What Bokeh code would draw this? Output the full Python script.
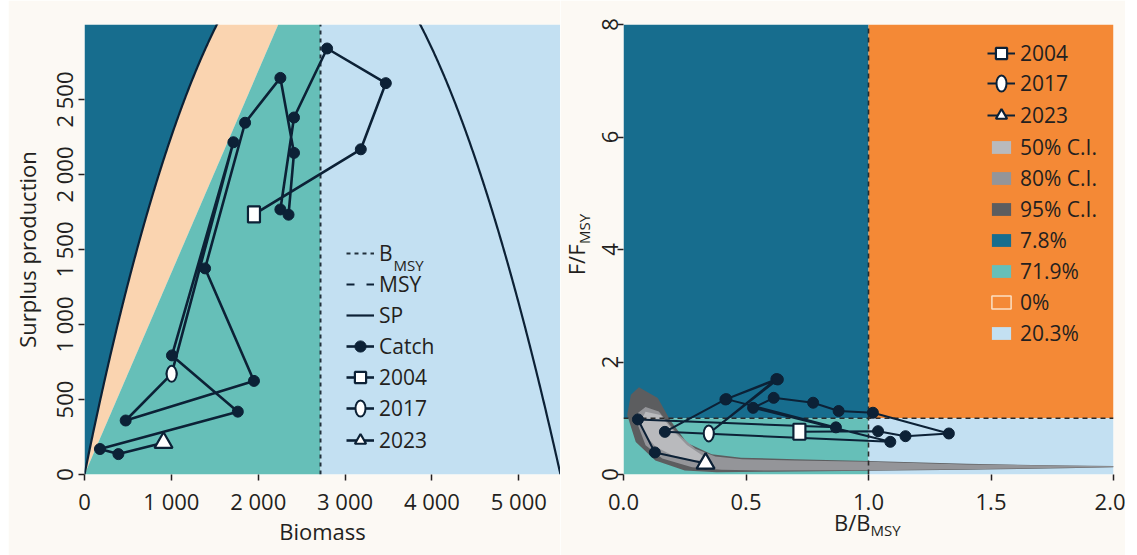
import numpy as np
from bokeh.plotting import figure
from bokeh.models import (ColumnDataSource, Legend, LegendItem, Label, Title, FixedTicker,
                          Range1d, Spacer)
from bokeh.layouts import row
from bokeh.embed import file_html
from bokeh.resources import INLINE

# ---------------- palette and fonts ----------------
FONT = "Open Sans"
TEXT = "#231f20"
NAVY = "#0c2136"
CREAM = "#fcf9f4"
DARK_BLUE = "#176d8e"
TEAL = "#66bfb8"
PEACH = "#fad4b0"
LIGHT_BLUE = "#c3e0f2"
ORANGE = "#f48936"
CI50 = "#b9babd"
CI80 = "#949599"
CI95 = "#5c5d5f"
TICK_SIZE = "22px"
TITLE_SIZE = "22px"
LEGEND_SIZE = "21px"
SUB_SIZE = "15px"

# ---------------- surplus production model (Pella-Tomlinson form) ----------------
K = 5480.0          # carrying capacity
r = 2.59            # intrinsic growth rate
shape = 0.9         # curve shape exponent
b_msy = 2717.0      # biomass at MSY
f_msy = 1.345       # fishing mortality at MSY


def surplus(b):
    return r / shape * b * (1 - (b / K) ** shape)


msy = float(surplus(b_msy))

# ---------------- stock trajectory (biomass vs catch) ----------------
years = list(range(2004, 2024))
biomass = [1951, 3181, 3469, 2793, 2412, 2255, 2349, 2412, 2255, 1849,
           1388, 1951, 474, 1003, 1714, 1007, 1765, 178, 390, 910]
catch = [1734, 2168, 2609, 2840, 2380, 1767, 1732, 2144, 2644, 2345,
         1374, 624, 360, 671, 2215, 794, 419, 170, 136, 212]

# ---------------- Kobe trajectory ----------------
b_ratio = [0.718, 1.039, 1.151, 1.328, 1.018, 0.878, 0.774, 0.613, 0.529, 1.089,
           0.169, 0.416, 0.624, 0.348, 0.630, 0.420, 0.867, 0.059, 0.128, 0.335]
f_ratio = [0.760, 0.770, 0.681, 0.729, 1.098, 1.129, 1.276, 1.363, 1.185, 0.581,
           0.758, 1.334, 1.696, 0.730, 1.690, 1.340, 0.838, 0.979, 0.392, 0.196]

# confidence regions of the terminal-year estimate
ci95_b = [0.063, 0.140, 0.190, 0.260, 0.360, 0.480, 0.70, 1.00, 1.40, 1.80, 2.00,
          2.00, 1.80, 1.40, 1.00, 0.60, 0.38, 0.25, 0.13, 0.05, 0.015, 0.03]
ci95_f = [1.55, 1.36, 0.97, 0.56, 0.36, 0.30, 0.27, 0.24, 0.19, 0.16, 0.15,
          0.13, 0.11, 0.085, 0.065, 0.05, 0.04, 0.07, 0.25, 0.58, 1.06, 1.42]
ci80_b = [0.090, 0.144, 0.212, 0.294, 0.375, 0.484, 0.70, 1.00, 1.40, 1.80, 2.00,
          2.00, 1.80, 1.40, 1.00, 0.60, 0.40, 0.28, 0.158, 0.090, 0.056, 0.060]
ci80_f = [1.20, 1.12, 0.76, 0.46, 0.32, 0.27, 0.25, 0.225, 0.18, 0.155, 0.148,
          0.133, 0.118, 0.093, 0.075, 0.07, 0.085, 0.13, 0.285, 0.52, 0.91, 1.10]
ci50_b = [0.090, 0.151, 0.199, 0.260, 0.321, 0.348, 0.280, 0.199, 0.131, 0.090, 0.070]
ci50_f = [1.116, 1.057, 0.790, 0.522, 0.344, 0.255, 0.255, 0.344, 0.492, 0.700, 0.940]

# quadrant shares
quadrant_labels = ["7.8%", "71.9%", "0%", "20.3%"]
ci_labels = ["50% C.I.", "80% C.I.", "95% C.I."]
marked_years = [2004, 2017, 2023]

# ---------------- axes ----------------
sp_x_max = 5480
sp_y_max = 3000
sp_x_ticks = [0, 1000, 2000, 3000, 4000, 5000]
sp_x_labels = ["0", "1 000", "2 000", "3 000", "4 000", "5 000"]
sp_y_ticks = [0, 500, 1000, 1500, 2000, 2500]
sp_y_labels = ["0", "500", "1 000", "1 500", "2 000", "2 500"]
kobe_x_ticks = [0, 0.5, 1.0, 1.5, 2.0]
kobe_x_labels = ["0.0", "0.5", "1.0", "1.5", "2.0"]
kobe_y_ticks = [0, 2, 4, 6, 8]
kobe_y_labels = ["0", "2", "4", "6", "8"]


def style_axes(p):
    for ax in p.axis:
        ax.axis_line_color = None
        ax.major_tick_line_color = TEXT
        ax.major_tick_line_width = 1.5
        ax.major_tick_out = 6
        ax.major_tick_in = 0
        ax.minor_tick_line_color = None
        ax.major_label_text_font = FONT
        ax.major_label_text_font_size = TICK_SIZE
        ax.major_label_text_color = TEXT
        ax.axis_label_text_font = FONT
        ax.axis_label_text_font_size = TITLE_SIZE
        ax.axis_label_text_font_style = "normal"
        ax.axis_label_text_color = TEXT
    p.grid.visible = False


def legend(p, items, loc, glyph_w, glyph_h, row_h, standoff):
    lg = Legend(items=items, location=loc, orientation="vertical",
                glyph_width=glyph_w, glyph_height=glyph_h, label_height=row_h,
                spacing=0, padding=0, margin=0, label_standoff=standoff,
                background_fill_alpha=0, border_line_alpha=0,
                label_text_font=FONT, label_text_font_size=LEGEND_SIZE,
                label_text_color=TEXT, label_text_baseline="middle")
    p.add_layout(lg, "center")
    return lg


def text(p, s, x, y, size=TITLE_SIZE, angle=0.0, align="left"):
    p.add_layout(Label(x=x, y=y, x_units="screen", y_units="screen", text=s,
                       angle=angle, text_align=align, text_baseline="alphabetic",
                       text_font=FONT, text_font_size=size, text_color=TEXT))


def side_title(p, s, side, size, align, offset, standoff):
    p.add_layout(Title(text=s, align=align, offset=offset, standoff=standoff,
                       vertical_align="bottom", text_font=FONT, text_font_size=size,
                       text_font_style="normal", text_color=TEXT), side)


def pick(xs, ys, yr):
    i = years.index(yr)
    return ColumnDataSource(dict(x=[xs[i]], y=[ys[i]]))


# ================= left panel: surplus production =================
p1 = figure(width=552, height=555, x_range=Range1d(0, sp_x_max), y_range=Range1d(0, sp_y_max),
            output_backend="svg", toolbar_location=None,
            min_border_left=72, min_border_right=0, min_border_top=24, min_border_bottom=81,
            background_fill_color=CREAM, border_fill_color=CREAM, outline_line_color=None)

bb = np.linspace(0, K, 800)
sp = surplus(bb)
top_i = int(np.argmax(sp >= sp_y_max))                      # first sample above the frame
b_top = float(np.interp(sp_y_max, sp[:top_i + 1], bb[:top_i + 1]))
cb = np.concatenate([bb[:top_i], [b_top]])
cs = np.concatenate([sp[:top_i], [sp_y_max]])
b_fline = sp_y_max / f_msy                                   # where C = Fmsy*B leaves the frame

p1.patch(np.concatenate([cb, [0]]), np.concatenate([cs, [sp_y_max]]),
         fill_color=DARK_BLUE, line_color=None)
p1.patch(np.concatenate([cb, [b_fline]]), np.concatenate([cs, [sp_y_max]]),
         fill_color=PEACH, line_color=None)
p1.patch([0, b_fline, b_msy, b_msy], [0, sp_y_max, sp_y_max, 0],
         fill_color=TEAL, line_color=None)
p1.quad(left=b_msy, right=sp_x_max, bottom=0, top=sp_y_max, fill_color=LIGHT_BLUE, line_color=None)

r_bmsy = p1.segment(x0=b_msy, x1=b_msy, y0=0, y1=sp_y_max, line_color="#22303c",
                    line_width=2, line_dash="4 4")
r_msy = p1.segment(x0=0, x1=sp_x_max, y0=msy, y1=msy, line_color=NAVY,
                   line_width=2, line_dash="8 12")
r_sp = p1.line(bb, sp, line_color=NAVY, line_width=2.2)

src = ColumnDataSource(dict(year=years, b=biomass, c=catch))
r_cline = p1.line("b", "c", source=src, line_color=NAVY, line_width=2.6)
r_cdot = p1.scatter("b", "c", source=src, size=11, fill_color=NAVY, line_color=NAVY)

l_sq = p1.rect("x", "y", source=pick(biomass, catch, marked_years[0]), width=12, height=16,
               width_units="screen", height_units="screen", fill_color="white",
               line_color=NAVY, line_width=2.2)
l_sq_key = p1.scatter("x", "y", source=pick(biomass, catch, marked_years[0]), marker="square",
                      size=14, fill_color="white", line_color=NAVY, line_width=2.2, visible=False)
l_el = p1.ellipse("x", "y", source=pick(biomass, catch, marked_years[1]), width=10, height=16,
                  width_units="screen", height_units="screen", fill_color="white",
                  line_color=NAVY, line_width=2)
l_tr = p1.scatter("x", "y", source=pick(biomass, catch, marked_years[2]), marker="triangle",
                  size=18, fill_color="white", line_color=NAVY, line_width=2.2)

style_axes(p1)
p1.xaxis.ticker = FixedTicker(ticks=sp_x_ticks)
p1.xaxis.major_label_overrides = dict(zip(sp_x_ticks, sp_x_labels))
p1.yaxis.ticker = FixedTicker(ticks=sp_y_ticks)
p1.yaxis.major_label_overrides = dict(zip(sp_y_ticks, sp_y_labels))
p1.yaxis.major_label_orientation = "vertical"
p1.xaxis.axis_label = "Biomass"
p1.yaxis.axis_label = "Surplus production"
p1.xaxis.major_label_standoff = 5
p1.xaxis.axis_label_standoff = -3
p1.yaxis.major_label_standoff = 0
p1.yaxis.axis_label_standoff = 4

legend(p1, [LegendItem(label="B", renderers=[r_bmsy]),
            LegendItem(label="MSY", renderers=[r_msy]),
            LegendItem(label="SP", renderers=[r_sp]),
            LegendItem(label="Catch", renderers=[r_cline, r_cdot]),
            LegendItem(label=str(marked_years[0]), renderers=[r_cline, l_sq_key])],
       (262, 82), 28, 30, 31, 5)
legend(p1, [LegendItem(label=str(marked_years[1]), renderers=[r_cline, l_el])],
       (262, 51), 28, 20, 31, 5)
legend(p1, [LegendItem(label=str(marked_years[2]), renderers=[r_cline, l_tr])],
       (262, 19), 28, 30, 31, 5)
text(p1, "MSY", 309, 209.5, size=SUB_SIZE)

# ================= right panel: Kobe plot =================
p2 = figure(width=565, height=555, x_range=Range1d(0, 2), y_range=Range1d(0, 8),
            output_backend="svg", toolbar_location=None,
            min_border_left=63, min_border_right=12, min_border_top=24, min_border_bottom=81,
            background_fill_color=CREAM, border_fill_color=CREAM, outline_line_color=None)

q_dark = p2.quad(left=0, right=1, bottom=1, top=8, fill_color=DARK_BLUE, line_color=None)
q_teal = p2.quad(left=0, right=1, bottom=0, top=1, fill_color=TEAL, line_color=None)
q_orange = p2.quad(left=1, right=2, bottom=1, top=8, fill_color=ORANGE, line_color=None)
q_orange_key = p2.quad(left=1, right=2, bottom=1, top=8, fill_color=ORANGE,
                       line_color="#fbe0c4", line_width=1.5, visible=False)
q_light = p2.quad(left=1, right=2, bottom=0, top=1, fill_color=LIGHT_BLUE, line_color=None)

r95 = p2.patch(ci95_b, ci95_f, fill_color=CI95, line_color=None)
r80 = p2.patch(ci80_b, ci80_f, fill_color=CI80, line_color=None)
r50 = p2.patch(ci50_b, ci50_f, fill_color=CI50, line_color=None)

p2.segment(x0=1, x1=1, y0=0, y1=8, line_color="#2b2b2b", line_width=1.6, line_dash="5 4")
p2.segment(x0=0, x1=2, y0=1, y1=1, line_color="#2b2b2b", line_width=1.6, line_dash="5 4")

ksrc = ColumnDataSource(dict(year=years, b=b_ratio, f=f_ratio))
k_line = p2.line("b", "f", source=ksrc, line_color=NAVY, line_width=2)
k_dot = p2.scatter("b", "f", source=ksrc, size=11, fill_color=NAVY, line_color=NAVY)

k_sq = p2.rect("x", "y", source=pick(b_ratio, f_ratio, marked_years[0]), width=12, height=16,
               width_units="screen", height_units="screen", fill_color="white",
               line_color=NAVY, line_width=2.2)
k_sq_key = p2.scatter("x", "y", source=pick(b_ratio, f_ratio, marked_years[0]), marker="square",
                      size=14, fill_color="white", line_color=NAVY, line_width=2.2, visible=False)
k_el = p2.ellipse("x", "y", source=pick(b_ratio, f_ratio, marked_years[1]), width=10, height=16,
                  width_units="screen", height_units="screen", fill_color="white",
                  line_color=NAVY, line_width=2)
k_tr = p2.scatter("x", "y", source=pick(b_ratio, f_ratio, marked_years[2]), marker="triangle",
                  size=18, fill_color="white", line_color=NAVY, line_width=2.2)

style_axes(p2)
p2.xaxis.ticker = FixedTicker(ticks=kobe_x_ticks)
p2.xaxis.major_label_overrides = dict(zip(kobe_x_ticks, kobe_x_labels))
p2.yaxis.ticker = FixedTicker(ticks=kobe_y_ticks)
p2.yaxis.major_label_overrides = dict(zip(kobe_y_ticks, kobe_y_labels))
p2.yaxis.major_label_orientation = "vertical"
p2.xaxis.major_label_standoff = 13
p2.yaxis.major_label_standoff = 0

# axis titles with subscripts, stacked outside the axes
side_title(p2, "B/B", "below", TITLE_SIZE, "right", 243, -16)
side_title(p2, "MSY", "below", SUB_SIZE, "left", 247, -22)
side_title(p2, "MSY", "left", SUB_SIZE, "left", 230.5, 9)
side_title(p2, "F/F", "left", TITLE_SIZE, "right", 220, -46)

legend(p2, [LegendItem(label=str(marked_years[0]), renderers=[k_line, k_sq_key])],
       (364, 406), 28, 30, 31, 5)
legend(p2, [LegendItem(label=str(marked_years[1]), renderers=[k_line, k_el])],
       (364, 376), 28, 20, 31, 5)
legend(p2, [LegendItem(label=str(marked_years[2]), renderers=[k_line, k_tr])],
       (364, 344), 28, 30, 31, 5)
legend(p2, [LegendItem(label=ci_labels[0], renderers=[r50]),
            LegendItem(label=ci_labels[1], renderers=[r80]),
            LegendItem(label=ci_labels[2], renderers=[r95]),
            LegendItem(label=quadrant_labels[0], renderers=[q_dark]),
            LegendItem(label=quadrant_labels[1], renderers=[q_teal]),
            LegendItem(label=quadrant_labels[2], renderers=[q_orange_key]),
            LegendItem(label=quadrant_labels[3], renderers=[q_light])],
       (366, 126), 24, 16, 31, 7)

layout = row(Spacer(width=8, height=555), p1, p2)
open("out.html", "w").write(file_html(layout, INLINE))
